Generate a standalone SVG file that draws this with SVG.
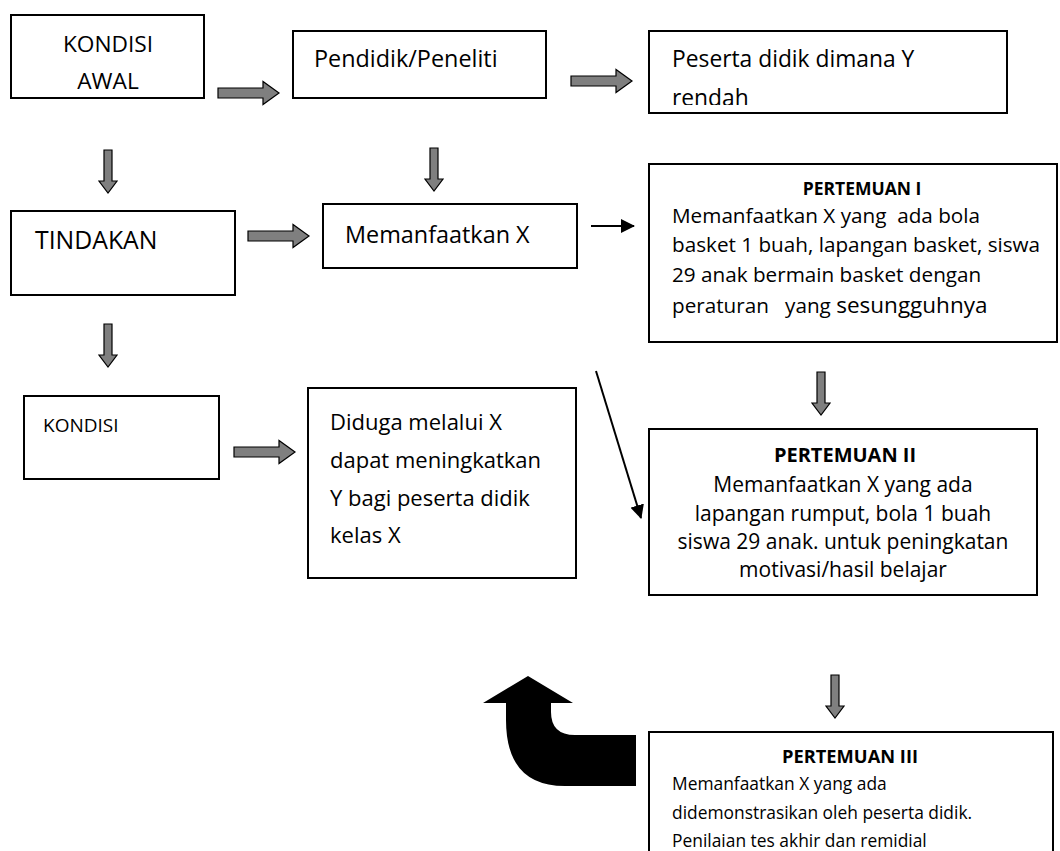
<svg xmlns="http://www.w3.org/2000/svg" width="1060" height="851" viewBox="0 0 1060 851">
<style>
.box{fill:#fff;stroke:#000;stroke-width:2}
.t{font-family:"Open Sans","Liberation Sans",sans-serif;fill:#000}
.b{font-family:"Open Sans","Liberation Sans",sans-serif;font-weight:bold;fill:#000}
.ga{fill:#7f7f7f;stroke:#000;stroke-width:1.2;stroke-linejoin:miter}
.thin{stroke:#000;stroke-width:2;fill:none}
</style>
<defs>
<path id="ra" d="M0,-5 H45 V-11.5 L61,0 L45,11.5 V5 H0 Z"/>
<path id="da" d="M-4,0 H4 V31 H9 L0,43 L-9,31 H-4 Z"/>
<marker id="ah2" markerWidth="14" markerHeight="14" refX="13" refY="7" orient="auto" markerUnits="userSpaceOnUse" viewBox="0 0 14 14">
<path d="M0,0 L14,7 L0,14 Z" fill="#000"/>
</marker>
<clipPath id="c3"><rect x="649" y="31" width="358" height="74"/></clipPath>
</defs>

<g id="connectors">
<use href="#ra" class="ga" x="218" y="93"/>
<use href="#ra" class="ga" x="571" y="81"/>
<use href="#ra" class="ga" x="248" y="236"/>
<use href="#ra" class="ga" x="234" y="452"/>
<use href="#da" class="ga" x="108" y="150"/>
<use href="#da" class="ga" x="434" y="148"/>
<use href="#da" class="ga" x="108" y="324"/>
<use href="#da" class="ga" x="821" y="372"/>
<use href="#da" class="ga" x="835" y="675"/>
<line class="thin" x1="591" y1="226" x2="634" y2="226" marker-end="url(#ah2)"/>
<line class="thin" x1="596" y1="371" x2="641" y2="518" marker-end="url(#ah2)"/>
<path d="M636,735 H575 Q551,735 551,712 V703 H573 L528,676 L483,703 H506 V720 Q506,786 565,786 H636 Z" fill="#000"/>
</g>

<g id="n-kondisi-awal">
<rect class="box" x="11" y="15" width="193" height="83"/>
<text class="t" font-size="22.7" x="108" y="52" text-anchor="middle">KONDISI</text>
<text class="t" font-size="22.7" x="108" y="89" text-anchor="middle">AWAL</text>
</g>

<g id="n-pendidik">
<rect class="box" x="293" y="31" width="253" height="67"/>
<text class="t" font-size="23.4" x="314" y="67">Pendidik/Peneliti</text>
</g>

<g id="n-peserta">
<rect class="box" x="649" y="31" width="358" height="82"/>
<g clip-path="url(#c3)">
<text class="t" font-size="22.8" x="672" y="67">Peserta didik dimana Y</text>
<text class="t" font-size="22.8" x="672" y="106">rendah</text>
</g>
</g>

<g id="n-tindakan">
<rect class="box" x="11" y="211" width="224" height="84"/>
<text class="t" font-size="24.8" x="35" y="249">TINDAKAN</text>
</g>

<g id="n-memanfaatkan">
<rect class="box" x="323" y="204" width="254" height="64"/>
<text class="t" font-size="23.4" x="345" y="243">Memanfaatkan X</text>
</g>

<g id="n-pertemuan1">
<rect class="box" x="649" y="164" width="408" height="178"/>
<text class="b" font-size="17.5" x="862" y="195" text-anchor="middle">PERTEMUAN I</text>
<text class="t" font-size="20.7" x="672" y="223" xml:space="preserve">Memanfaatkan X yang  ada bola</text>
<text class="t" font-size="20.7" x="672" y="252">basket 1 buah, lapangan basket, siswa</text>
<text class="t" font-size="20.7" x="672" y="282">29 anak bermain basket dengan</text>
<text class="t" font-size="20.7" x="672" y="313" xml:space="preserve">peraturan   yang <tspan font-size="22.5">sesungguhnya</tspan></text>
</g>

<g id="n-kondisi">
<rect class="box" x="24" y="396" width="195" height="83"/>
<text class="t" font-size="19" x="43" y="432">KONDISI</text>
</g>

<g id="n-diduga">
<rect class="box" x="308" y="388" width="268" height="190"/>
<text class="t" font-size="22" x="330" y="430">Diduga melalui X</text>
<text class="t" font-size="22" x="330" y="468">dapat meningkatkan</text>
<text class="t" font-size="22" x="330" y="506">Y bagi peserta didik</text>
<text class="t" font-size="22" x="330" y="543">kelas X</text>
</g>

<g id="n-pertemuan2">
<rect class="box" x="649" y="429" width="388" height="166"/>
<text class="b" font-size="20" x="845" y="462" text-anchor="middle">PERTEMUAN II</text>
<text class="t" font-size="21" x="843" y="492" text-anchor="middle">Memanfaatkan X yang ada</text>
<text class="t" font-size="21" x="843" y="521" text-anchor="middle">lapangan rumput, bola 1 buah</text>
<text class="t" font-size="21" x="843" y="549" text-anchor="middle">siswa 29 anak. untuk peningkatan</text>
<text class="t" font-size="21" x="843" y="577" text-anchor="middle">motivasi/hasil belajar</text>
</g>

<g id="n-pertemuan3">
<rect class="box" x="649" y="732" width="404" height="130"/>
<text class="b" font-size="18.3" x="850" y="763" text-anchor="middle">PERTEMUAN III</text>
<text class="t" font-size="17.4" x="672" y="790">Memanfaatkan X yang ada</text>
<text class="t" font-size="17.4" x="672" y="819">didemonstrasikan oleh peserta didik.</text>
<text class="t" font-size="17.4" x="672" y="847">Penilaian tes akhir dan remidial</text>
</g>
</svg>
